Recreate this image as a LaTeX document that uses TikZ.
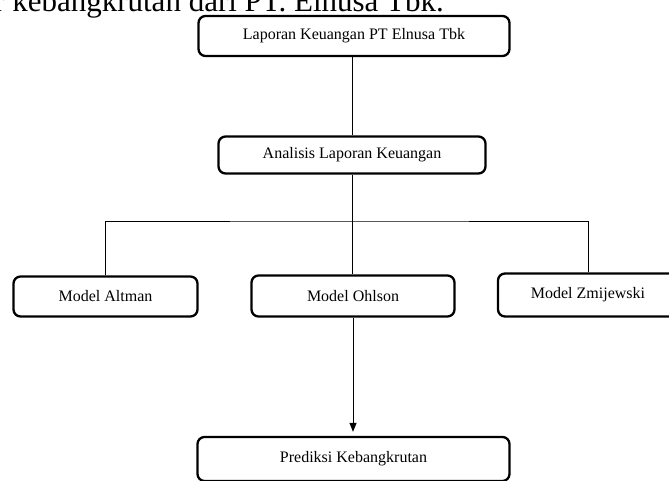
\documentclass[tikz,border=0pt]{standalone}
\usepackage{fontspec}
\setmainfont{Liberation Serif}
\usetikzlibrary{arrows.meta, positioning}

\begin{document}
\begin{tikzpicture}[
    x=1pt, y=-1pt,
    >={Triangle[length=9pt, width=7pt]},
    blk/.style={draw, rounded corners=7pt, line width=2.3pt, inner sep=0pt, font=\fontsize{16}{19}\selectfont},
    conn/.style={line width=0.9pt},
]
    \useasboundingbox (0,0) rectangle (669,480);
    \clip (0,0) rectangle (669,480);
    % caption line cut at the top
    \node[anchor=base west, inner sep=0pt, font=\fontsize{31}{36}\selectfont] (cap) at (-6,11) {r kebangkrutan dari PT. Elnusa Tbk.};
    \node[blk, minimum width=311pt, minimum height=40pt] (lap) at (354,36) {Laporan Keuangan PT Elnusa Tbk};
    \node[blk, minimum width=267pt, minimum height=37pt] (ana) at (352,155) {Analisis Laporan Keuangan};
    \node[blk, minimum width=184pt, minimum height=40pt] (alt) at (105.5,296.5) {Model Altman};
    \node[blk, minimum width=203pt, minimum height=41pt] (ohl) at (353,296) {Model Ohlson};
    \node[blk, minimum width=180pt, minimum height=43pt] (zmi) at (588,295) {Model Zmijewski};
    \node[blk, minimum width=312pt, minimum height=44pt] (pred) at (353.5,459) {Prediksi Kebangkrutan};
    \coordinate (split) at (352,221);
    \draw[conn] (ana.north |- lap.south) -- (ana.north);
    \draw[conn] (ana.south) -- (ana.south |- ohl.north);
    \draw[conn] (alt.north) |- (split) -| (zmi.north);
    \draw[conn, ->, shorten >=4pt] (ohl.south) -- (ohl.south |- pred.north);
\end{tikzpicture}
\end{document}
